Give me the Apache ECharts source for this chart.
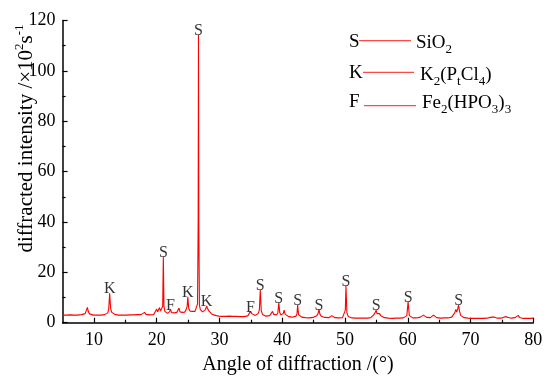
<!DOCTYPE html>
<html><head><meta charset="utf-8">
<script src="https://cdn.jsdelivr.net/npm/echarts@6/dist/echarts.min.js"></script>
<style>html,body{margin:0;padding:0;background:#fff}#c{width:550px;height:385px}</style>
</head><body><div id="c"></div>
<script>
// XRD scan, [angle 2θ (°), intensity (×10² s⁻¹)]
const scan05to20 = [[5.0,3.0],[5.3,2.9],[5.6,3.0],[5.9,2.9],[6.2,3.1],[6.5,3.0],[6.8,3.0],[7.1,3.1],[7.4,3.0],[7.7,3.2],[8.0,3.2],[8.3,3.3],[8.6,3.6],[8.8,4.2],[8.95,6.1],[9.1,4.4],[9.3,3.5],[9.6,3.1],[9.9,3.0],[10.2,2.9],[10.5,3.0],[10.8,2.9],[11.1,3.0],[11.4,3.1],[11.7,3.2],[12.0,3.4],[12.2,3.9],[12.35,5.5],[12.5,11.7],[12.65,5.8],[12.8,4.2],[13.0,3.6],[13.3,3.3],[13.6,3.1],[13.9,3.0],[14.2,3.1],[14.5,3.0],[14.8,2.9],[15.1,3.0],[15.4,3.0],[15.7,3.1],[16.0,3.0],[16.3,3.1],[16.6,3.0],[16.9,3.2],[17.2,3.1],[17.5,3.2],[17.8,3.3],[18.05,4.1],[18.3,3.3],[18.6,3.2],[18.9,3.1],[19.2,3.1],[19.5,3.2],[19.8,3.6]];
const scan20to30 = [[20.0,5.4],[20.15,4.3],[20.3,5.2],[20.45,6.0],[20.6,4.6],[20.8,5.0],[20.95,6.5],[21.05,26.2],[21.15,6.5],[21.3,4.5],[21.5,4.0],[21.7,3.7],[21.9,3.9],[22.05,4.4],[22.2,5.3],[22.35,4.0],[22.6,3.7],[22.8,3.9],[23.0,3.7],[23.2,4.1],[23.4,4.6],[23.55,5.8],[23.7,4.3],[23.9,3.9],[24.1,4.1],[24.3,4.8],[24.45,4.2],[24.65,5.0],[24.85,6.5],[24.95,10.3],[25.1,5.6],[25.3,4.6],[25.5,4.3],[25.7,4.5],[25.9,4.2],[26.1,4.5],[26.3,5.0],[26.5,7.5],[26.6,40],[26.65,114.2],[26.7,40],[26.8,7.0],[26.95,5.2],[27.1,4.6],[27.3,4.3],[27.5,4.6],[27.7,5.0],[27.85,5.8],[27.95,6.7],[28.1,5.6],[28.3,4.7],[28.5,4.0],[28.7,3.6],[28.9,3.3],[29.1,3.1],[29.3,3.0],[29.5,2.8],[29.7,2.7],[29.9,2.6]];
const scan30to41 = [[30.1,2.6],[30.4,2.5],[30.7,2.7],[31.0,2.5],[31.3,2.4],[31.6,2.6],[31.9,2.9],[32.1,2.5],[32.4,2.4],[32.7,2.5],[33.0,2.8],[33.3,2.4],[33.6,2.5],[33.9,2.4],[34.2,2.6],[34.5,2.7],[34.75,3.2],[34.95,4.5],[35.15,3.6],[35.4,3.0],[35.7,2.9],[35.9,3.1],[36.15,3.6],[36.35,5.0],[36.5,13.0],[36.65,4.8],[36.85,3.3],[37.1,2.9],[37.4,2.6],[37.7,2.6],[38.0,2.8],[38.25,3.4],[38.45,4.5],[38.65,3.2],[38.9,2.9],[39.15,3.2],[39.3,4.0],[39.45,7.9],[39.6,4.0],[39.8,3.1],[40.0,2.9],[40.15,3.6],[40.3,5.0],[40.45,3.4],[40.7,2.7]];
const scan41to56 = [[41.0,2.4],[41.3,2.3],[41.6,2.2],[41.9,2.3],[42.2,2.6],[42.35,3.6],[42.45,7.0],[42.6,3.2],[42.8,2.5],[43.1,2.2],[43.4,2.1],[43.7,2.0],[44.0,2.1],[44.3,1.9],[44.6,2.0],[44.9,2.1],[45.2,2.3],[45.5,2.8],[45.7,3.6],[45.85,5.3],[46.0,3.4],[46.2,2.6],[46.5,2.2],[46.8,2.1],[47.1,2.2],[47.4,2.0],[47.7,2.2],[47.9,2.8],[48.1,2.3],[48.4,2.0],[48.7,1.9],[49.0,1.9],[49.3,1.8],[49.6,2.0],[49.9,2.5],[50.05,5.0],[50.15,14.7],[50.3,4.0],[50.5,2.5],[50.8,2.0],[51.1,1.9],[51.4,1.8],[51.7,1.8],[52.0,1.9],[52.3,1.8],[52.6,1.7],[52.9,1.8],[53.2,1.9],[53.5,1.8],[53.8,1.9],[54.1,2.0],[54.4,2.4],[54.6,3.2],[54.8,4.0],[54.95,5.0],[55.1,3.6],[55.3,3.2],[55.5,3.6],[55.7,2.8]];
const scan56to80 = [[56.0,2.2],[56.3,2.0],[56.6,1.9],[56.9,1.8],[57.2,1.8],[57.5,1.7],[57.8,1.8],[58.1,1.8],[58.4,1.7],[58.7,1.8],[59.0,1.8],[59.3,1.9],[59.6,2.0],[59.85,2.8],[60.05,8.3],[60.25,2.8],[60.5,2.1],[60.8,1.9],[61.1,1.8],[61.4,1.9],[61.7,2.0],[62.0,2.2],[62.3,2.8],[62.5,3.0],[62.7,2.5],[63.0,2.1],[63.3,1.9],[63.6,2.0],[63.9,2.4],[64.1,3.0],[64.3,2.5],[64.6,2.0],[64.9,1.9],[65.2,1.8],[65.5,1.8],[65.8,1.9],[66.1,1.8],[66.4,1.9],[66.7,2.0],[67.0,2.2],[67.3,2.8],[67.5,4.0],[67.65,5.3],[67.8,4.2],[67.95,5.5],[68.1,7.0],[68.25,4.5],[68.45,2.8],[68.7,2.2],[69.0,2.0],[69.3,1.9],[69.6,1.8],[69.9,1.8],[70.2,1.7],[70.5,1.8],[70.8,1.7],[71.1,1.8],[71.4,1.7],[71.7,1.8],[72.0,1.7],[72.3,1.8],[72.6,1.8],[72.9,1.9],[73.2,2.1],[73.5,2.7],[73.7,2.3],[74.0,1.9],[74.3,1.8],[74.6,1.7],[74.9,1.8],[75.2,2.0],[75.5,2.4],[75.7,3.1],[75.9,2.2],[76.2,1.9],[76.5,1.8],[76.8,1.9],[77.1,2.0],[77.4,2.3],[77.6,2.9],[77.8,2.1],[78.1,1.8],[78.4,1.7],[78.7,1.8],[79.0,1.7],[79.3,1.8],[79.6,1.7],[80.0,1.8]];

// labelled peaks
const peakAngles  = [12.5, 21.05, 22.2, 24.95, 26.65, 27.95, 34.95, 36.5, 39.45, 42.45, 45.85, 50.15, 54.95, 60.05, 68.1];
const peakHeights = [11.7, 26.2, 5.3, 10.3, 114.2, 6.7, 4.5, 13.0, 7.9, 7.0, 5.3, 14.7, 5.0, 8.3, 7.0];
const peakPhases  = ['K','S','F','K','S','K','F','S','S','S','S','S','S','S','S'];

// phase key
const phaseKeys  = ['S', 'K', 'F'];
const phaseNames = ['SiO{b|2}', 'K{b|2}(P{b|t}Cl{b|4})', 'Fe{b|2}(HPO{b|3}){b|3}'];

// axes
const xMajorTicks = [10, 20, 30, 40, 50, 60, 70, 80];
const xMinorTicks = [15, 25, 35, 45, 55, 65, 75];
const xRange = [5, 80];
const yRange = [0, 120];
const yStep = 20;

const FONT = 'Liberation Serif';
const scan = [].concat(scan05to20, scan20to30, scan30to41, scan41to56, scan56to80);
const labelPts = peakAngles.map((a, i) => ({ value: [a, peakHeights[i]], name: peakPhases[i] }));

const chart = echarts.init(document.getElementById('c'), null, { renderer: 'canvas' });

const legendGraphics = [];
const rowY = [41.7, 73.3, 101.7];
const lineSpan = [[359, 411], [363, 414], [364, 416]];
const lineY = [40.7, 72.3, 105.7];
const nameX = [416, 420, 422];
phaseKeys.forEach((k, i) => {
  legendGraphics.push({
    type: 'text', x: 349, y: rowY[i],
    style: { text: k, font: '19px "' + FONT + '"', fill: '#000', textAlign: 'left', textVerticalAlign: 'middle', align: 'left', verticalAlign: 'middle' }
  });
  legendGraphics.push({
    type: 'line', shape: { x1: lineSpan[i][0], y1: lineY[i], x2: lineSpan[i][1], y2: lineY[i] },
    style: { stroke: '#ff4848', lineWidth: 1.2 }
  });
  legendGraphics.push({
    type: 'text', x: nameX[i], y: rowY[i] + 1.5,
    style: {
      text: phaseNames[i], fill: '#000', fontFamily: FONT, fontSize: 19,
      textAlign: 'left', textVerticalAlign: 'middle', align: 'left', verticalAlign: 'middle',
      rich: {
        b: { fontFamily: FONT, fontSize: 13, lineHeight: 13, verticalAlign: 'bottom', fill: '#000', color: '#000' }
      },
      lineHeight: 26
    }
  });
});

legendGraphics.push({
  type: 'text', x: 26, y: 138.5, rotation: Math.PI / 2,
  style: {
    text: 'diffracted intensity /×10{p|2}s{p|-1}', fill: '#000', fontFamily: FONT, fontSize: 21, lineHeight: 26,
    textAlign: 'center', textVerticalAlign: 'middle', align: 'center', verticalAlign: 'middle',
    rich: { p: { fontFamily: FONT, fontSize: 13, lineHeight: 13, verticalAlign: 'top', fill: '#000', color: '#000' } }
  }
});

chart.setOption({
  animation: false,
  backgroundColor: '#fff',
  textStyle: { fontFamily: FONT },
  grid: { left: 62.6, right: 16.7, top: 20.5, bottom: 62.3, containLabel: false, outerBoundsMode: 'none' },
  xAxis: [{
    type: 'value', min: xRange[0], max: xRange[1], position: 'bottom',
    name: 'Angle of diffraction /(°)', nameLocation: 'middle', nameGap: 19,
    nameTextStyle: { fontFamily: FONT, fontSize: 20, color: '#000' },
    axisLine: { show: true, onZero: false, lineStyle: { color: '#000', width: 1.5 } },
    axisTick: { show: true, inside: true, length: 5, customValues: xMajorTicks, lineStyle: { color: '#000', width: 1.2 } },
    axisLabel: { show: true, customValues: xMajorTicks, margin: 9, fontFamily: FONT, fontSize: 18, color: '#000' },
    splitLine: { show: false }, minorTick: { show: false }
  }, {
    type: 'value', min: xRange[0], max: xRange[1], position: 'bottom',
    axisLine: { show: false, onZero: false },
    axisTick: { show: true, inside: true, length: 3, customValues: xMinorTicks, lineStyle: { color: '#000', width: 1.2 } },
    axisLabel: { show: false },
    splitLine: { show: false }
  }],
  yAxis: {
    type: 'value', min: yRange[0], max: yRange[1], interval: yStep,
    axisLine: { show: true, onZero: false, lineStyle: { color: '#000', width: 1.5 } },
    axisTick: { show: true, inside: true, length: 5, lineStyle: { color: '#000', width: 1.2 } },
    minorTick: { show: true, splitNumber: 2, length: 3, lineStyle: { color: '#000', width: 1.2 } },
    axisLabel: { margin: 7, fontFamily: FONT, fontSize: 18, color: '#000' },
    splitLine: { show: false }, minorSplitLine: { show: false }
  },
  series: [{
    type: 'line', xAxisIndex: 0, data: scan, showSymbol: false, symbol: 'none',
    lineStyle: { color: '#ff0000', width: 1.1 }, itemStyle: { color: '#ff0000' }, z: 2
  }, {
    type: 'scatter', xAxisIndex: 0, data: labelPts, symbolSize: 0, silent: true, z: 3,
    label: { show: true, position: 'top', distance: -4, formatter: p => p.name, fontFamily: FONT, fontSize: 16, color: '#000' }
  }],
  graphic: legendGraphics
});
</script></body></html>
